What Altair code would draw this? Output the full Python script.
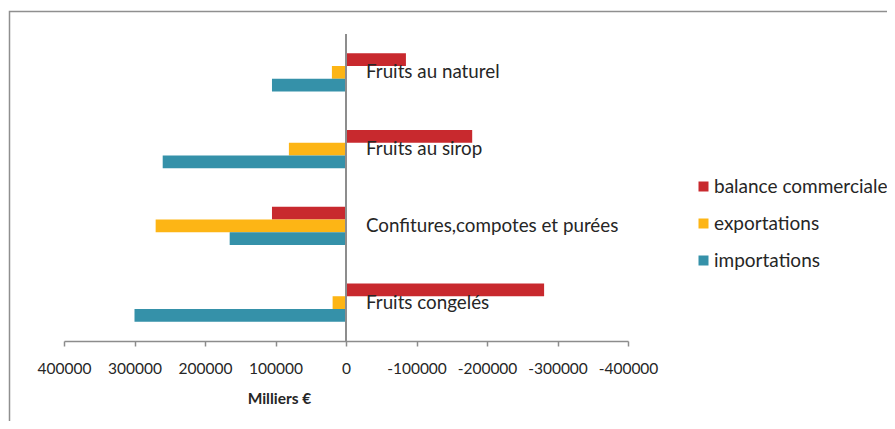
import altair as alt
import pandas as pd

categories = ["Fruits au naturel", "Fruits au sirop", "Confitures,compotes et purées", "Fruits congelés"]
series = ["balance commerciale", "exportations", "importations"]
balance = [-85000, -179000, 105000, -281000]
exportations = [20000, 81000, 270000, 19000]
importations = [105000, 260000, 165000, 300000]
tick_values = [400000, 300000, 200000, 100000, 0, -100000, -200000, -300000, -400000]
colors = ["#C8292E", "#FDB515", "#3591A9"]

rows = []
for i, c in enumerate(categories):
    for s, vals in zip(series, [balance, exportations, importations]):
        rows.append({"cat": c, "series": s, "value": vals[i]})
df = pd.DataFrame(rows)
cat_df = pd.DataFrame({"cat": categories})

W, H = 564, 307
FONT = "Lato"

xscale = alt.Scale(domain=[-400000, 400000], reverse=True)
yenc = alt.Y("cat:N", sort=categories, axis=None,
             scale=alt.Scale(paddingInner=0.5, paddingOuter=0.25))

bars = alt.Chart(df).mark_bar().encode(
    x=alt.X("value:Q", scale=xscale,
            axis=alt.Axis(values=tick_values, labelExpr="'' + datum.value", title="Milliers €",
                          grid=False, domainColor="#8c8c8c", domainWidth=1.5,
                          tickColor="#8c8c8c", tickWidth=1.5, tickSize=5,
                          labelFont=FONT, labelFontSize=15.5, labelColor="#262626",
                          labelBaseline="middle", labelPadding=22, labelFlush=False,
                          labelOverlap=False,
                          titleFont=FONT, titleFontSize=15.5, titleFontWeight="bold",
                          titleColor="#262626", titleX=215, titleY=57,
                          titleBaseline="middle", titleAlign="center")),
    y=yenc,
    yOffset=alt.YOffset("series:N", sort=series, scale=alt.Scale(domain=series)),
    color=alt.Color("series:N", sort=series,
                    scale=alt.Scale(domain=series, range=colors),
                    legend=alt.Legend(title=None, orient="none", legendX=630, legendY=143,
                                      symbolType="square", symbolSize=100,
                                      symbolStrokeWidth=0, labelFont=FONT,
                                      labelFontSize=19, labelColor="#262626",
                                      labelLimit=400,
                                      labelOffset=1, rowPadding=17, padding=0)),
)

zero_rule = alt.Chart(cat_df).mark_rule(color="#8c8c8c", strokeWidth=1.5).encode(
    x=alt.datum(0), y=alt.value(0), y2=alt.value(H)
)

labels = alt.Chart(cat_df).mark_text(align="left", baseline="middle", dx=20,
                                     font=FONT, fontSize=18.8, color="#262626").encode(
    x=alt.datum(0), y=yenc, text="cat:N"
)

border = alt.Chart(alt.Data(values=[{}])).mark_rect(
    fillOpacity=0, stroke="#8f8f8f", strokeWidth=1.5, clip=False
).encode(
    x=alt.value(-54.5), x2=alt.value(1000), y=alt.value(-22.5), y2=alt.value(600)
)

chart = alt.layer(border, bars, zero_rule, labels).properties(
    width=W, height=H,
    autosize=alt.AutoSizeParams(type="none"),
    padding={"left": 56, "top": 26, "right": 259, "bottom": 80},
).configure_view(stroke=None)

chart.save("out.html", embed_options={"renderer": "svg", "actions": False})
